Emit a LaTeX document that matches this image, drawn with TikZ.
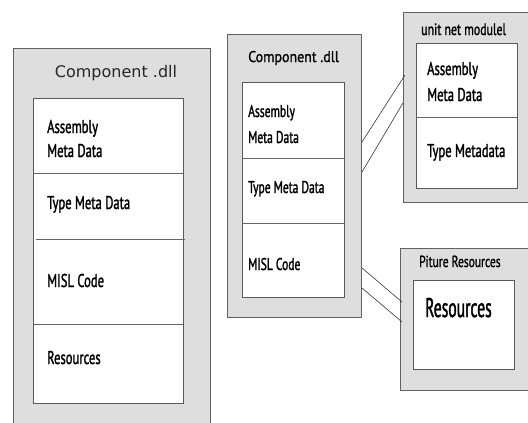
\documentclass[tikz,border=0pt]{standalone}
\usepackage{fontspec}
\setmainfont{PT Sans}
\newfontfamily\narrowsf[FakeStretch=0.68, FakeBold=1.4]{PT Sans}
\newfontfamily\tightsf[FakeStretch=0.72, FakeBold=1.2]{PT Sans}
\newfontfamily\slimsf[FakeStretch=0.58, FakeBold=1.4]{PT Sans}
\newfontfamily\headsf[FakeStretch=0.9, FakeBold=1.2]{PT Sans}
\newfontfamily\titlesf{DejaVu Sans}
\usetikzlibrary{calc}

\tikzset{
  shell/.style={draw=black!62, line width=1pt, fill=black!13, anchor=north west, inner sep=0pt},
  part/.style={draw=black!65, line width=0.9pt, fill=white, anchor=north west, inner sep=0pt},
  sep/.style={draw=black!60, line width=0.7pt},
  link/.style={draw=black!78, line width=0.6pt},
  lbl/.style={anchor=base west, inner sep=0pt, text=black},
  big/.style={lbl, font=\narrowsf\fontsize{18.5}{20}\selectfont},
  small/.style={lbl, font=\narrowsf\fontsize{17}{18}\selectfont},
}

\begin{document}
\begin{tikzpicture}[x=1pt, y=-1pt]
  \clip (0,0) rectangle (528,423);
  \fill[white] (0,0) rectangle (528,423);

  % left assembly
  \node[shell, minimum width=197pt, minimum height=400pt] (leftdll) at (13,48) {};
  \node[part, minimum width=150pt, minimum height=305pt] (leftcore) at (33,98) {};
  \draw[sep] (33,173) -- (183,173);
  \draw[sep] (36,239) -- (185,239);
  \draw[sep] (33,324) -- (183,324);
  \node[anchor=base, inner sep=0pt, font=\titlesf\fontsize{16}{17}\selectfont, text=black!85] (lefttitle) at (116,77) {Component .dll};
  \node[big] (leftasm) at (47,133) {Assembly};
  \node[big] (leftmeta) at (47,157) {Meta Data};
  \node[big] (lefttype) at (47,209) {Type Meta Data};
  \node[big] (leftmisl) at (47,287) {MISL Code};
  \node[big] (leftres) at (47,364) {Resources};

  % middle assembly
  \node[shell, minimum width=134pt, minimum height=283pt] (middll) at (227,34) {};
  \node[part, minimum width=102pt, minimum height=215pt] (midcore) at (242,82) {};
  \draw[sep] (242,158) -- (344,158);
  \draw[sep] (242,223) -- (344,223);
  \node[lbl, font=\headsf\fontsize{15.5}{16}\selectfont] (midtitle) at (248,62) {Component .dll};
  \node[small] (midasm) at (248,117) {Assembly};
  \node[small] (midmeta) at (248,143) {Meta Data};
  \node[small] (midtype) at (248,193) {Type Meta Data};
  \node[small] (midmisl) at (248,270) {MISL Code};

  % net module
  \node[shell, minimum width=140pt, minimum height=190pt] (modshell) at (403,12) {};
  \node[part, minimum width=101pt, minimum height=145pt] (modcore) at (416,43) {};
  \draw[sep] (416,117) -- (517,117);
  \node[lbl, font=\tightsf\fontsize{16.5}{17}\selectfont] (modtitle) at (421,35) {unit net modulel};
  \node[big] (modasm) at (427,75) {Assembly};
  \node[big] (modmeta) at (427,101) {Meta Data};
  \node[big] (modtype) at (427,157) {Type Metadata};

  % picture resources
  \node[shell, minimum width=143pt, minimum height=142pt] (resshell) at (400,248) {};
  \node[part, minimum width=101pt, minimum height=89pt] (rescore) at (413,280) {};
  \node[lbl, font=\tightsf\fontsize{16}{18}\selectfont] (restitle) at (419,267) {Piture Resources};
  \node[lbl, font=\slimsf\fontsize{27}{29}\selectfont] (resbody) at (425,317) {Resources};

  % links between the assemblies
  \coordinate (a1) at ($(middll.north east)+(0,108)$);
  \coordinate (a2) at ($(middll.north east)+(0,138)$);
  \coordinate (b1) at ($(modshell.north west)+(2,63)$);
  \coordinate (b2) at ($(modshell.north west)+(0,91)$);
  \coordinate (c1) at ($(middll.north east)+(0,234)$);
  \coordinate (c2) at ($(middll.north east)+(0,254)$);
  \coordinate (d1) at ($(resshell.north west)+(2,54)$);
  \coordinate (d2) at ($(resshell.north west)+(2,74)$);
  \draw[link] (a1) -- (b1);
  \draw[link] (a2) -- (b2);
  \draw[link] (c1) -- (d1);
  \draw[link] (c2) -- (d2);
\end{tikzpicture}
\end{document}
